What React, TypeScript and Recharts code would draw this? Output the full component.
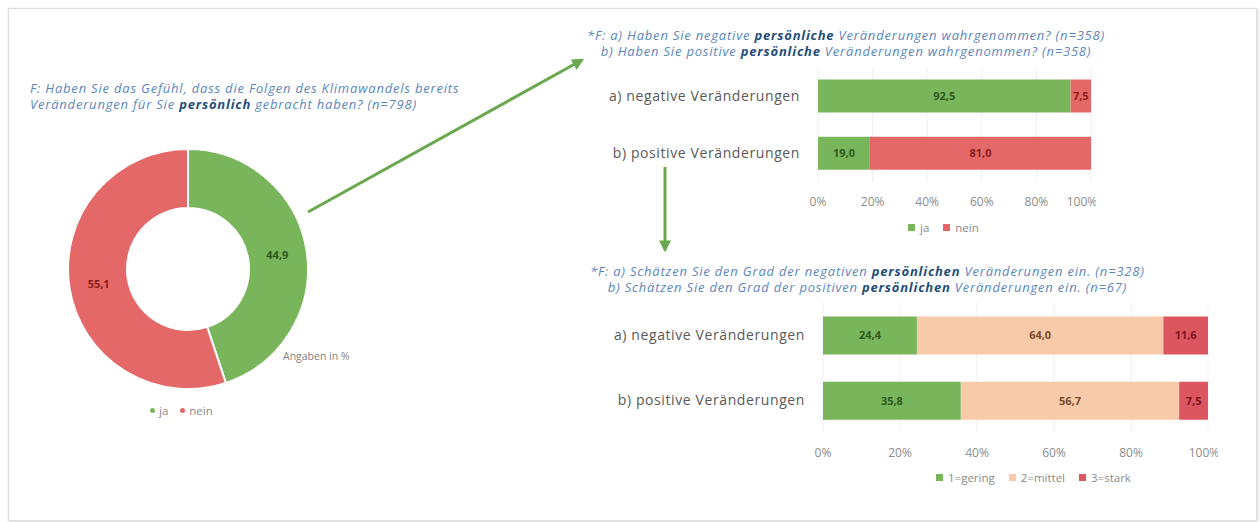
import { PieChart, Pie, Cell, BarChart, Bar, XAxis, YAxis, CartesianGrid, LabelList } from 'recharts';

// Donut: persönliche Veränderungen durch Klimawandel (n=798)
const donutLabels = ['ja', 'nein'];
const donutValues = [44.9, 55.1];

// Wahrgenommene Veränderungen (n=358)
const wahrCategories = ['a) negative Veränderungen', 'b) positive Veränderungen'];
const wahrJa = [92.5, 19.0];
const wahrNein = [7.5, 81.0];

// Grad der Veränderungen (n=328 / n=67)
const gradCategories = ['a) negative Veränderungen', 'b) positive Veränderungen'];
const gradGering = [24.4, 35.8];
const gradMittel = [64.0, 56.7];
const gradStark = [11.6, 7.5];

const percentTicks = [0, 20, 40, 60, 80, 100];

const GREEN = '#79b55b';
const RED = '#e46868';
const PEACH = '#f8caa9';
const DARKRED = '#dc5660';
const TITLE = '#5b86bd';
const TITLE_BOLD = '#1f4e79';
const FONT = '"Open Sans", sans-serif';

const fmt = (v: any) => Number(v).toFixed(1).replace('.', ',');

const donutData = donutLabels.map((name, i) => ({ name, value: donutValues[i] }));
const wahrData = wahrCategories.map((name, i) => ({ name, ja: wahrJa[i], nein: wahrNein[i] }));
const gradData = gradCategories.map((name, i) => ({
  name,
  gering: gradGering[i],
  mittel: gradMittel[i],
  stark: gradStark[i],
}));

const RAD = Math.PI / 180;

function DonutLabel(props: any) {
  const { cx, cy, midAngle, innerRadius, outerRadius, value } = props;
  const r = (innerRadius + outerRadius) / 2;
  const x = cx + r * Math.cos(-midAngle * RAD);
  const y = cy + r * Math.sin(-midAngle * RAD);
  return (
    <text x={x} y={y} textAnchor="middle" dominantBaseline="central" fontSize={11} fontWeight={700}
      fill={props.index === 0 ? '#2e5a1c' : '#8a1c1c'} fontFamily={FONT}>
      {fmt(value)}
    </text>
  );
}

function SquareLegend({ items, left, top }: { items: { label: string; color: string }[]; left: number; top: number }) {
  return (
    <div style={{ position: 'absolute', left, top, display: 'flex', gap: 14, fontFamily: FONT, fontSize: 11.5, color: '#8a8a8a' }}>
      {items.map((it) => (
        <span key={it.label} style={{ display: 'flex', alignItems: 'center', gap: 5 }}>
          <span style={{ width: 7, height: 7, background: it.color, display: 'inline-block' }} />
          {it.label}
        </span>
      ))}
    </div>
  );
}

const titleStyle: React.CSSProperties = {
  position: 'absolute',
  fontFamily: FONT,
  fontStyle: 'italic',
  fontSize: 13,
  letterSpacing: 0.8,
  lineHeight: '16px',
  color: TITLE,
  whiteSpace: 'nowrap',
};

const catTick = { fontSize: 14, fill: '#595959', fontFamily: FONT, letterSpacing: 0.6 };
const pctTick = { fontSize: 12, fill: '#8c8c8c', fontFamily: FONT };

export default function App() {
  return (
    <div style={{ position: 'absolute', left: 0, top: 0, width: 1260, height: 522, background: '#fff', overflow: 'hidden' }}>
      <div style={{ position: 'absolute', left: 8, top: 8, width: 1247, height: 511, border: '1px solid #dedede', boxShadow: '1px 1px 3px #d5d5d5' }} />

      {/* Left question */}
      <div style={{ ...titleStyle, left: 30, top: 80 }}>
        F: Haben Sie das Gefühl, dass die Folgen des Klimawandels bereits<br />
        Veränderungen für Sie <b style={{ color: TITLE_BOLD }}>persönlich</b> gebracht haben? (n=798)
      </div>

      <div style={{ position: 'absolute', left: 33, top: 114 }}>
        <PieChart width={310} height={310}>
          <Pie data={donutData} dataKey="value" nameKey="name" cx={150} cy={150} innerRadius={61} outerRadius={120}
            startAngle={90} endAngle={-270} stroke="#fff" strokeWidth={2} labelLine={false} label={DonutLabel}
            isAnimationActive={false}>
            <Cell fill={GREEN} />
            <Cell fill={RED} />
          </Pie>
        </PieChart>
      </div>
      <div style={{ position: 'absolute', left: 283, top: 349, fontFamily: FONT, fontSize: 10.5, color: '#7f7f7f' }}>Angaben in %</div>
      <div style={{ position: 'absolute', left: 150, top: 403, display: 'flex', gap: 12, fontFamily: FONT, fontSize: 11.5, color: '#8a8a8a' }}>
        {donutLabels.map((l, i) => (
          <span key={l} style={{ display: 'flex', alignItems: 'center', gap: 4 }}>
            <span style={{ width: 5, height: 5, borderRadius: 3, background: i === 0 ? GREEN : RED, display: 'inline-block' }} />
            {l}
          </span>
        ))}
      </div>

      {/* Right upper question */}
      <div style={{ ...titleStyle, left: 587, top: 27, textAlign: 'center' }}>
        *F: a) Haben Sie negative <b style={{ color: TITLE_BOLD }}>persönliche</b> Veränderungen wahrgenommen? (n=358)<br />
        b) Haben Sie positive <b style={{ color: TITLE_BOLD }}>persönliche</b> Veränderungen wahrgenommen? (n=358)
      </div>

      <div style={{ position: 'absolute', left: 590, top: 60 }}>
        <BarChart width={506} height={152} data={wahrData} layout="vertical" barSize={33}
          margin={{ top: 7.5, right: 5, bottom: 0, left: 0 }}>
          <CartesianGrid horizontal={false} stroke="#efefef" />
          <XAxis type="number" domain={[0, 100]} ticks={percentTicks} tickFormatter={(v) => `${v}%`}
            axisLine={false} tickLine={false} height={30} tickMargin={9} tick={pctTick} />
          <YAxis type="category" dataKey="name" width={228} axisLine={false} tickLine={false} tickMargin={12} tick={catTick} />
          <Bar dataKey="ja" stackId="a" fill={GREEN} isAnimationActive={false}>
            <LabelList dataKey="ja" position="center" formatter={fmt} fill="#2e5a1c" fontSize={11} fontWeight={700} fontFamily={FONT} />
          </Bar>
          <Bar dataKey="nein" stackId="a" fill={RED} isAnimationActive={false}>
            <LabelList dataKey="nein" position="center" formatter={fmt} fill="#8a1c1c" fontSize={11} fontWeight={700} fontFamily={FONT} />
          </Bar>
        </BarChart>
      </div>
      <SquareLegend left={908} top={220} items={[{ label: 'ja', color: GREEN }, { label: 'nein', color: RED }]} />

      {/* Right lower question */}
      <div style={{ ...titleStyle, left: 590, top: 263, textAlign: 'center' }}>
        *F: a) Schätzen Sie den Grad der negativen <b style={{ color: TITLE_BOLD }}>persönlichen</b> Veränderungen ein. (n=328)<br />
        b) Schätzen Sie den Grad der positiven <b style={{ color: TITLE_BOLD }}>persönlichen</b> Veränderungen ein. (n=67)
      </div>

      <div style={{ position: 'absolute', left: 590, top: 290 }}>
        <BarChart width={628} height={173} data={gradData} layout="vertical" barSize={38}
          margin={{ top: 12.5, right: 10, bottom: 0, left: 0 }}>
          <CartesianGrid horizontal={false} stroke="#efefef" />
          <XAxis type="number" domain={[0, 100]} ticks={percentTicks} tickFormatter={(v) => `${v}%`}
            axisLine={false} tickLine={false} height={30} tickMargin={9} tick={pctTick} />
          <YAxis type="category" dataKey="name" width={233} axisLine={false} tickLine={false} tickMargin={12} tick={catTick} />
          <Bar dataKey="gering" stackId="g" fill={GREEN} isAnimationActive={false}>
            <LabelList dataKey="gering" position="center" formatter={fmt} fill="#2e5a1c" fontSize={11} fontWeight={700} fontFamily={FONT} />
          </Bar>
          <Bar dataKey="mittel" stackId="g" fill={PEACH} isAnimationActive={false}>
            <LabelList dataKey="mittel" position="center" formatter={fmt} fill="#7a4a2a" fontSize={11} fontWeight={700} fontFamily={FONT} />
          </Bar>
          <Bar dataKey="stark" stackId="g" fill={DARKRED} isAnimationActive={false}>
            <LabelList dataKey="stark" position="center" formatter={fmt} fill="#7a1620" fontSize={11} fontWeight={700} fontFamily={FONT} />
          </Bar>
        </BarChart>
      </div>
      <SquareLegend left={936} top={470} items={[
        { label: '1=gering', color: GREEN },
        { label: '2=mittel', color: PEACH },
        { label: '3=stark', color: DARKRED },
      ]} />

      {/* Arrows */}
      <svg width={1260} height={522} style={{ position: 'absolute', left: 0, top: 0, pointerEvents: 'none' }}>
        <defs>
          <marker id="ah" viewBox="0 0 10 10" refX="8" refY="5" markerWidth="4" markerHeight="4" orient="auto">
            <path d="M0,0 L10,5 L0,10 z" fill="#6aa84f" />
          </marker>
        </defs>
        <line x1={308} y1={212} x2={582} y2={60} stroke="#6aa84f" strokeWidth={3} markerEnd="url(#ah)" />
        <line x1={665} y1={167} x2={665} y2={250} stroke="#6aa84f" strokeWidth={3} markerEnd="url(#ah)" />
      </svg>
    </div>
  );
}
